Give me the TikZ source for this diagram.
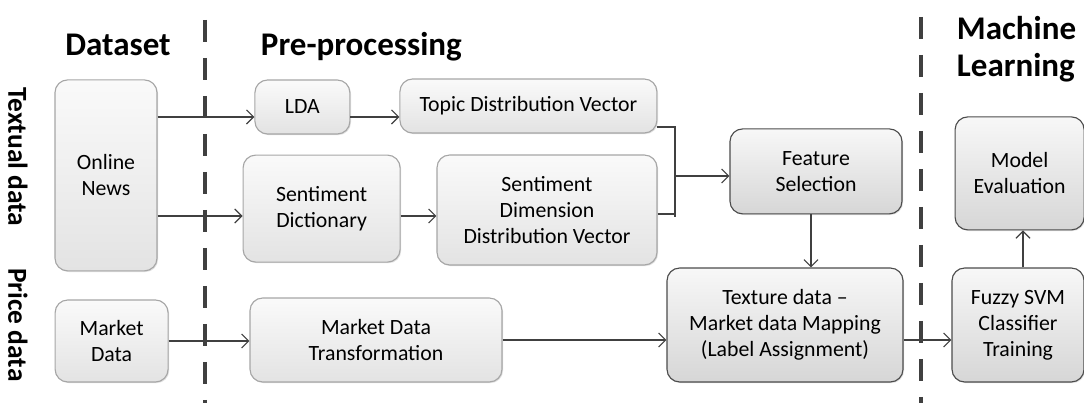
\documentclass[tikz,border=0pt]{standalone}
\usepackage{fontspec}
\setmainfont{Carlito}
\usetikzlibrary{arrows.meta}
\usetikzlibrary{shadows}

\tikzset{
  stage/.style={rounded corners=9pt,draw=gray!70,line width=0.8pt,
    top color=gray!4,bottom color=gray!22,align=center,font=\fontsize{15.5}{18.5}\selectfont,
    drop shadow={opacity=0.25,shadow xshift=0.8pt,shadow yshift=-0.8pt},inner sep=2pt},
  darkstage/.style={stage,draw=black!70,top color=gray!6,bottom color=gray!32},
  arr/.style={draw=black!75,line width=0.8pt,-{Straight Barb[length=5pt,width=10pt]}},
  divider/.style={draw=black!75,line width=2.8pt,dash pattern=on 0.55cm off 0.4cm},
  heading/.style={font=\fontsize{23.5}{26.5}\selectfont\bfseries,align=left},
  rowlabel/.style={font=\fontsize{19.5}{22}\selectfont\bfseries,rotate=-90}
}

\begin{document}
\begin{tikzpicture}
  \useasboundingbox (0,0) rectangle (27.1,10.075);
  % dividers
  \draw[divider] (5.125,9.575) -- (5.125,0);
  \draw[divider] (23.025,9.65) -- (23.025,0);
  % headings
  \node[heading] (hdata) at (2.95,8.95) {Dataset};
  \node[heading,anchor=west] (hpre) at (6.4,8.9) {Pre-processing};
  \node[heading,anchor=west] (hml) at (23.8,8.85) {Machine\\Learning};
  \node[rowlabel] (ltext) at (0.45,6.15) {Textual data};
  \node[rowlabel] (lprice) at (0.45,1.95) {Price data};
  % boxes
  \node[stage,minimum width=2.55cm,minimum height=4.775cm] (news) at (2.65,5.69) {Online\\News};
  \node[stage,minimum width=2.825cm,minimum height=2.05cm] (market) at (2.79,1.55) {Market\\Data};
  \node[stage,minimum width=2.375cm,minimum height=1.35cm] (lda) at (7.56,7.4) {LDA};
  \node[stage,minimum width=6.425cm,minimum height=1.35cm] (topic) at (13.21,7.425) {Topic Distribution Vector};
  \node[stage,minimum width=3.925cm,minimum height=2.675cm] (sdict) at (8.04,4.86) {Sentiment\\Dictionary};
  \node[stage,minimum width=5.5cm,minimum height=2.75cm] (sddv) at (13.675,4.825) {Sentiment\\Dimension\\Distribution Vector};
  \node[stage,minimum width=6.3cm,minimum height=2.1cm] (mdt) at (9.4,1.575) {Market Data\\Transformation};
  \node[darkstage,minimum width=4.3cm,minimum height=2.125cm] (feat) at (20.4,5.79) {Feature\\Selection};
  \node[darkstage,minimum width=5.9cm,minimum height=2.85cm] (map) at (19.625,1.95) {Texture data --\\Market data Mapping\\(Label Assignment)};
  \node[darkstage,minimum width=3.3cm,minimum height=2.85cm] (fuzzy) at (25.45,1.95) {Fuzzy SVM\\Classifier\\Training};
  \node[darkstage,minimum width=3.225cm,minimum height=2.825cm] (eval) at (25.49,5.74) {Model\\Evaluation};
  % connectors
  \coordinate (jtop) at (16.875,6.9);
  \coordinate (jbot) at (16.875,4.65);
  \draw[arr] (news.east |- 0,7.15) -- (lda.west |- 0,7.15);
  \draw[arr] (lda.east |- 0,7.15) -- (topic.west |- 0,7.15);
  \draw[arr] (news.east |- 0,4.675) -- (sdict.west |- 0,4.675);
  \draw[arr] (sdict.east |- 0,4.675) -- (sddv.west |- 0,4.675);
  \draw[draw=black!75,line width=0.8pt] (topic.east |- jtop) -- (jtop) -- (jbot);
  \draw[draw=black!75,line width=0.8pt] (sddv.east |- 0,4.725) -- (16.875,4.725);
  \draw[arr] (16.875,5.675) -- (feat.west |- 0,5.675);
  \draw[arr] (feat.south -| 20.275,0) -- (map.north -| 20.275,0);
  \draw[arr] (market.east) -- (mdt.west |- market.east);
  \draw[arr] (mdt.east |- 0,1.575) -- (map.west |- 0,1.575);
  \draw[arr] (map.east |- 0,1.575) -- (fuzzy.west |- 0,1.575);
  \draw[arr] (fuzzy.north -| 25.575,0) -- (eval.south -| 25.575,0);
\end{tikzpicture}
\end{document}
